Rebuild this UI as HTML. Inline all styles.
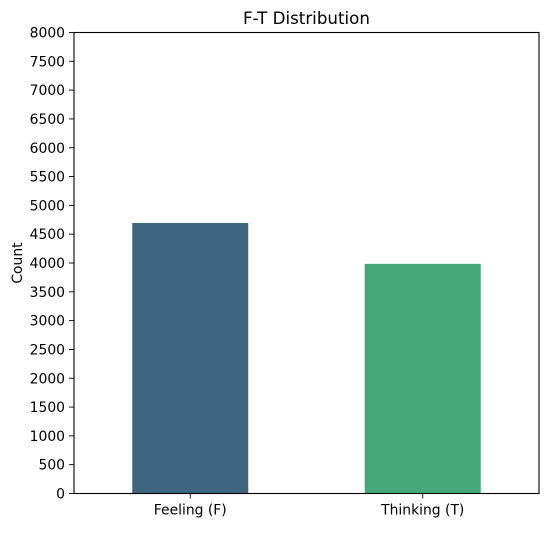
<!DOCTYPE html>
<html><head><meta charset="utf-8"><style>
body{margin:0;background:#fff;}
svg text{font-family:"DejaVu Sans","Liberation Sans",sans-serif;}
</style></head><body>
<svg width="549" height="528" xmlns="http://www.w3.org/2000/svg">
<g id="plot"></g>
</svg>
<script>
const categories=["Feeling (F)","Thinking (T)"];
const counts=[4695,3985];
const colors=["#3e6680","#46a878"];
const ticks=[0,500,1000,1500,2000,2500,3000,3500,4000,4500,5000,5500,6000,6500,7000,7500,8000];
const L=74,R=539,T=32.5,B=493.5,ymax=8000;
const y=v=>B-(B-T)*v/ymax;
const xc=i=>L+(R-L)*(i+0.5)/categories.length;
const bw=116;
const g=document.getElementById('plot');
const NS="http://www.w3.org/2000/svg";
function mk(t,a){const e=document.createElementNS(NS,t);for(const k in a)e.setAttribute(k,a[k]);return e;}
categories.forEach((c,i)=>{
 const r=mk('rect',{x:xc(i)-bw/2,y:y(counts[i]),width:bw,height:B-y(counts[i]),fill:colors[i]});
 
 
 g.appendChild(r);
 const tk=mk('line',{x1:xc(i),x2:xc(i),y1:B,y2:B+5,stroke:'#000','stroke-width':0.9});
 g.appendChild(tk);
 const t=mk('text',{x:xc(i),y:B+21,'text-anchor':'middle','font-size':13.9,fill:'#000'});
 t.textContent=c;
 
 
 g.appendChild(t);
});
ticks.forEach(v=>{
 g.appendChild(mk('line',{x1:L-5,x2:L,y1:y(v),y2:y(v),stroke:'#000','stroke-width':0.9}));
 const t=mk('text',{x:L-9,y:y(v)+5,'text-anchor':'end','font-size':13.9,fill:'#000'});
 t.textContent=v;
 
 
 g.appendChild(t);
});
const fr=mk('rect',{x:L,y:T,width:R-L,height:B-T,fill:'none',stroke:'#000','stroke-width':1.1});


g.appendChild(fr);
const ti=mk('text',{x:(L+R)/2,y:24,'text-anchor':'middle','font-size':16.7,fill:'#000'});
ti.textContent='F-T Distribution';


g.appendChild(ti);
const yl=mk('text',{x:22,y:(T+B)/2,'text-anchor':'middle','font-size':13.9,fill:'#000',transform:`rotate(-90 22 ${(T+B)/2})`});
yl.textContent='Count';


g.appendChild(yl);
</script>
</body></html>
